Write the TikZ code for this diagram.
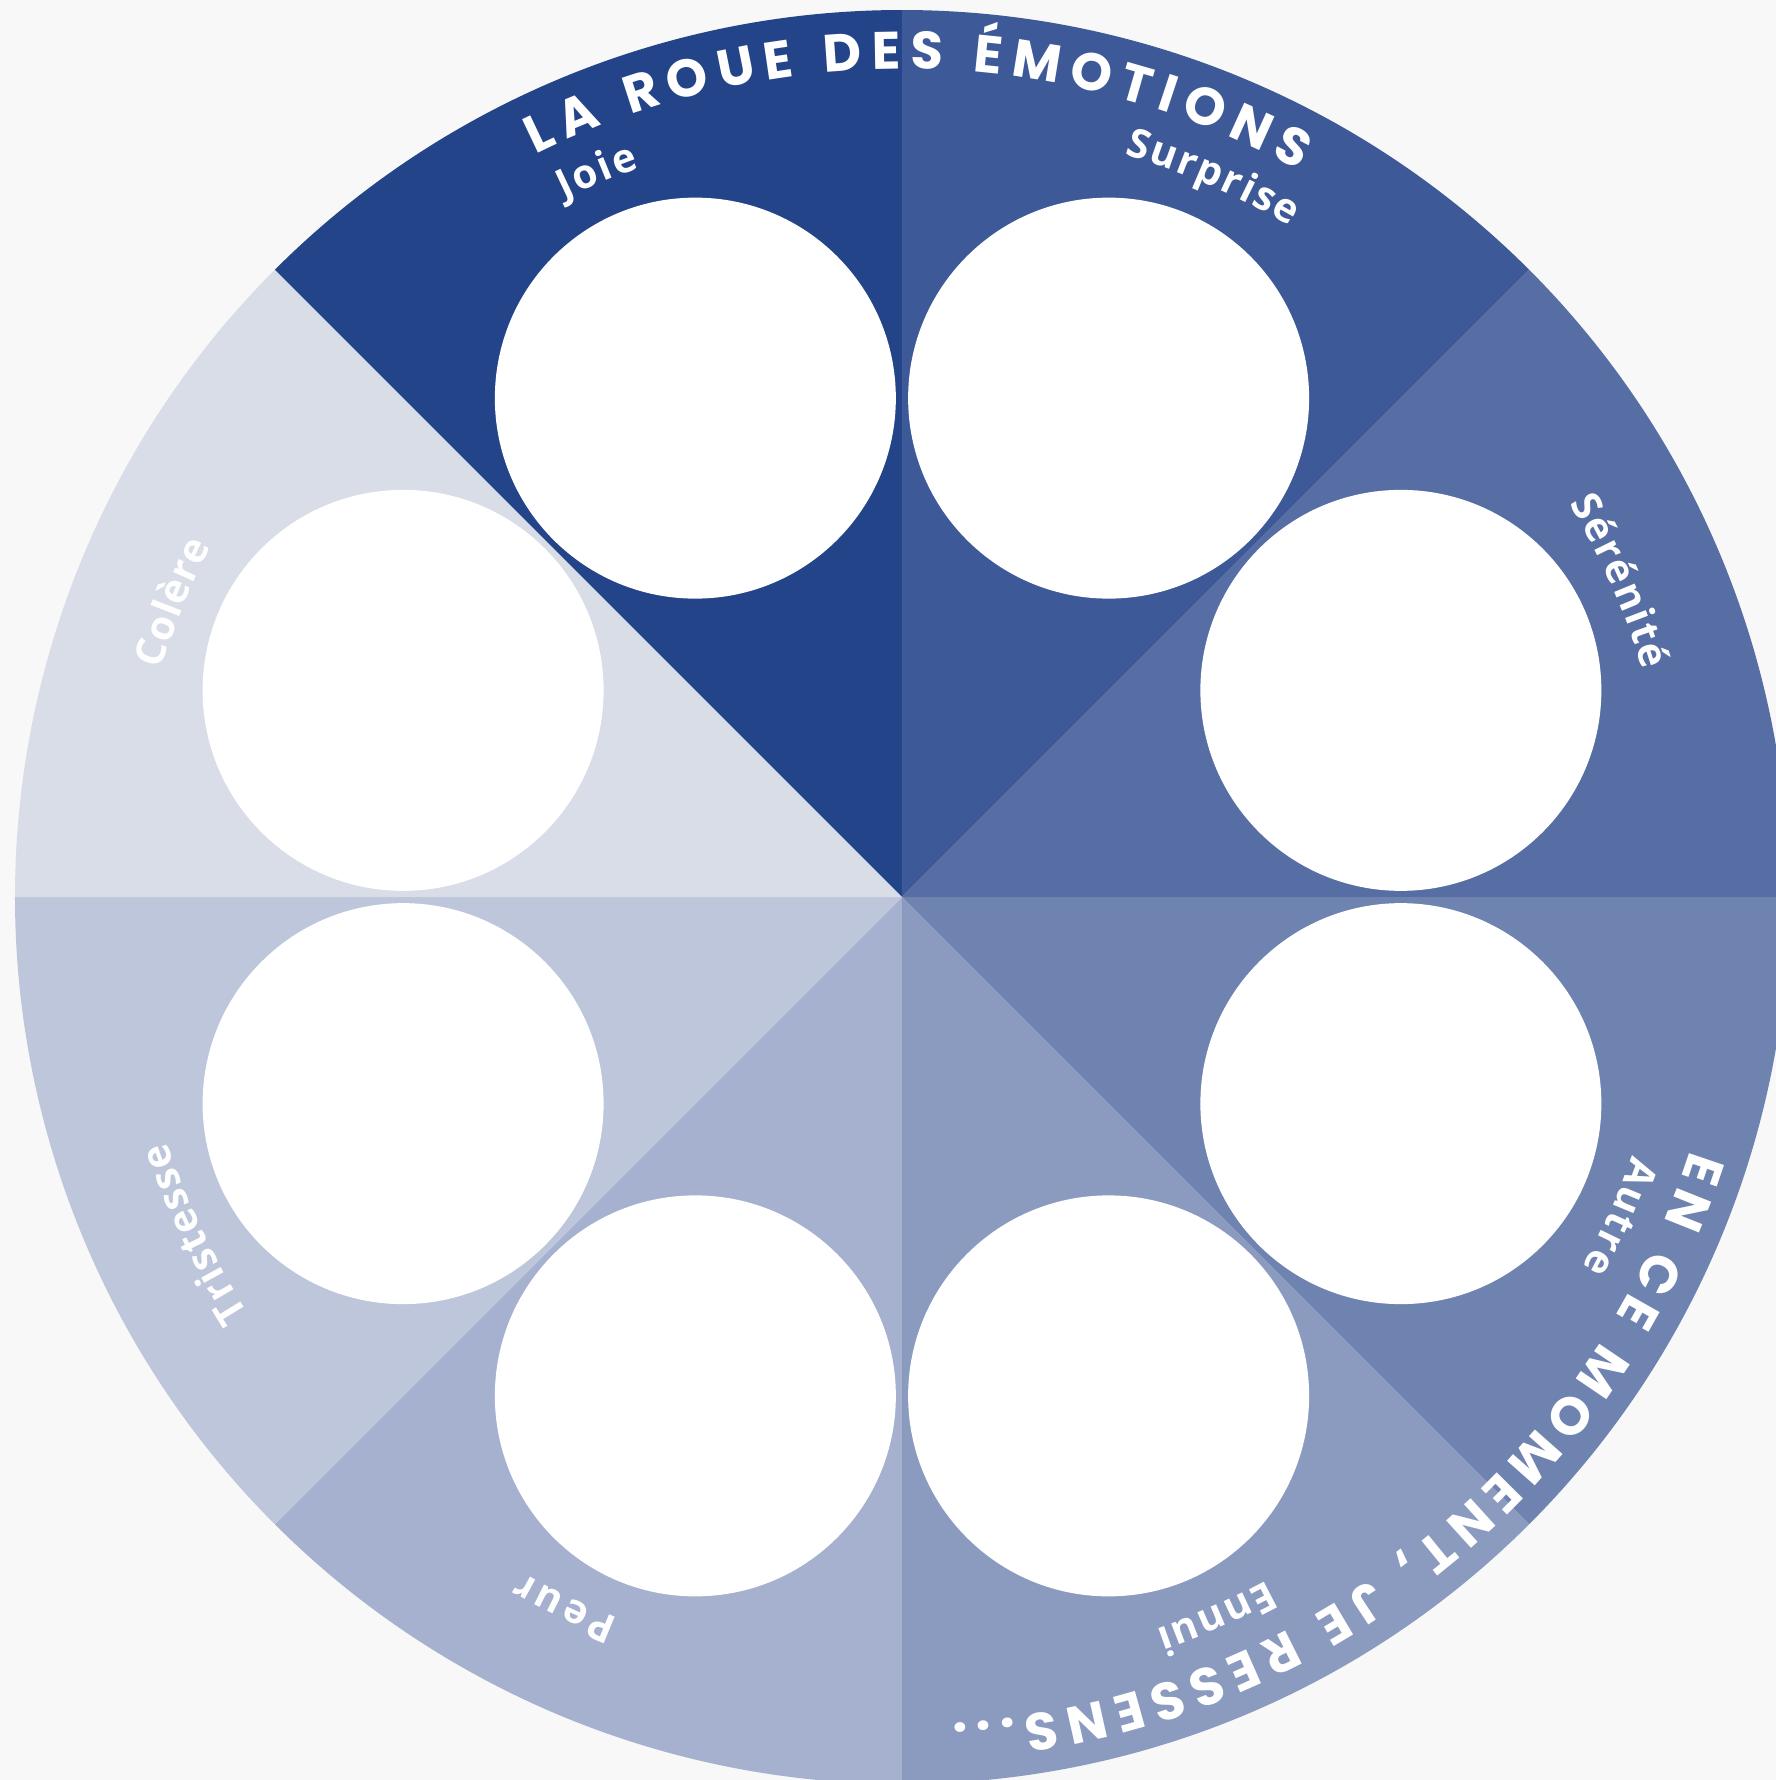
\documentclass[tikz,border=0pt]{standalone}
\usepackage{fontspec}

\newfontfamily\wheelfont{Open Sans}
\newfontfamily\rimfont{Poppins}
\newcommand\titlefmt{\rimfont\bfseries}
\newcommand\labelfmt{\wheelfont\bfseries}

\definecolor{paper}{HTML}{F8F8F8}
\definecolor{joiecol}{HTML}{244489}
\definecolor{surpcol}{HTML}{3D5997}
\definecolor{serecol}{HTML}{566EA4}
\definecolor{autrecol}{HTML}{6F83B0}
\definecolor{ennuicol}{HTML}{8A9BBF}
\definecolor{peurcol}{HTML}{A5B1CF}
\definecolor{tristcol}{HTML}{BDC6DB}
\definecolor{colecol}{HTML}{D8DDE7}

% one letter after the other, clockwise round the centre, tops outward;
% the tracking is worked out so that the word fills the given span
% #1 name, #2 radius (cm), #3 centre angle, #4 span (deg), #5 font, #6 scale, #7 letters
\newcommand\arcword[7]{%
  \gdef\arcsum{0}%
  \foreach \ch [count=\k] in {#7}{%
    #5\pgfmathwidth{"\ch"}%
    \pgfmathsetmacro\tmp{\arcsum+#6*\pgfmathresult}%
    \global\let\arcsum\tmp
    \xdef\arcn{\k}%
  }%
  \pgfmathsetmacro\tmp{(#4/57.2958*#2*28.4527-\arcsum)/(\arcn-1)}%
  \global\let\arctrack\tmp
  \pgfmathsetmacro\tmp{#3+#4/2}%
  \global\let\arcang\tmp
  \foreach \ch [count=\k] in {#7}{%
    #5\pgfmathwidth{"\ch"}%
    \pgfmathsetmacro\w{#6*\pgfmathresult}%
    \pgfmathsetmacro\cang{\arcang-(\w/2)/(#2*28.4527)*57.2958}%
    \node[rimchar, font=#5, scale=#6, rotate=\cang-90] (#1-\k) at (\cang:#2) {\ch};%
    \pgfmathsetmacro\tmp{\arcang-(\w+\arctrack)/(#2*28.4527)*57.2958}%
    \global\let\arcang\tmp
  }%
}

\begin{document}
\begin{tikzpicture}[
    wedge/.style={fill=#1, draw=none},
    hole/.style={circle, fill=white, draw=none, minimum size=4.01cm, inner sep=0pt},
    rimchar/.style={text=white, inner sep=0pt, anchor=base},
]
% --- page and wheel radius ------------------------------------------
\fill[paper] (-9.02,-8.83) rectangle (8.74,8.97);
\useasboundingbox (-9.02,-8.83) rectangle (8.74,8.97);
\clip (-9.02,-8.83) rectangle (8.74,8.97);
\def\wheelr{8.87}

% --- eight sectors and their holes -----------------------------------
\foreach \s/\col/\name in {90/joiecol/joie, 45/surpcol/surprise, 0/serecol/serenite,
        -45/autrecol/autre, -90/ennuicol/ennui, -135/peurcol/peur,
        -180/tristcol/tristesse, 135/colecol/colere}{
  \fill[wedge=\col] (0,0) -- (\s:\wheelr) arc[start angle=\s, end angle=\s+45, radius=\wheelr] -- cycle;
  \node[hole] (\name) at (\s+22.5:5.40) {};
}

% --- labels, near the middle of each sector ----------------------------
\arcword{joie-lab}{7.75}{112.8}{6.0}{\labelfmt}{1.15}{J,o,i,e}
\arcword{surprise-lab}{7.75}{66.6}{13.4}{\labelfmt}{1.15}{S,u,r,p,r,i,s,e}
\arcword{serenite-lab}{7.75}{23.75}{13.5}{\labelfmt}{1.15}{S,é,r,é,n,i,t,é}
\arcword{autre-lab}{7.75}{-24.0}{9.1}{\labelfmt}{1.15}{A,u,t,r,e}
\arcword{ennui-lab}{7.75}{-66.4}{9.0}{\labelfmt}{1.15}{E,n,n,u,i}
\arcword{peur-lab}{7.75}{-115.4}{7.9}{\labelfmt}{1.15}{P,e,u,r}
\arcword{tristesse-lab}{7.75}{-154.5}{14.1}{\labelfmt}{1.15}{T,r,i,s,t,e,s,s,e}
\arcword{colere-lab}{7.75}{158.0}{9.9}{\labelfmt}{1.15}{C,o,l,è,r,e}

% --- titles on the rim ----------------------------------------------
\arcword{title}{8.28}{88.8}{55.0}{\titlefmt}{1.5}{L,A,~,R,O,U,E,~,D,E,S,~,É,M,O,T,I,O,N,S}
\arcword{prompt}{8.28}{-52.15}{68.7}{\titlefmt}{1.5}{E,N,~,C,E,~,M,O,M,E,N,T,{,},~,J,E,~,R,E,S,S,E,N,S,.,.,.}
\end{tikzpicture}
\end{document}
